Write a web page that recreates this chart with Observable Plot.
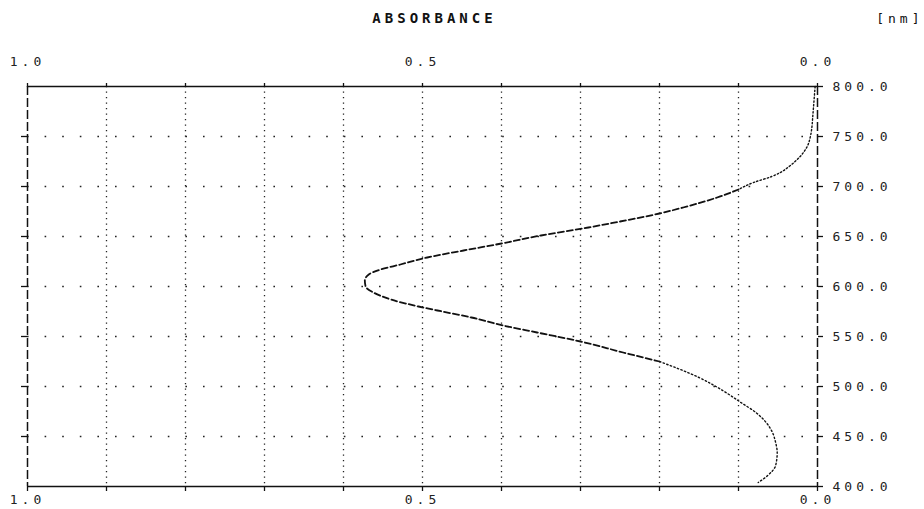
<!DOCTYPE html>
<html>
<head>
<meta charset="utf-8">
<script src="https://cdn.jsdelivr.net/npm/d3@7"></script>
<script src="https://cdn.jsdelivr.net/npm/@observablehq/plot@0.6"></script>
<style>
  html, body { margin: 0; padding: 0; background: #fff; }
  svg { display: block; }
  svg text { letter-spacing: 4px; }
</style>
</head>
<body>
<div id="chart"></div>
<script>
// Wavelength [nm] and absorbance
const wavelength = [800, 790, 780, 770, 760, 750, 740, 730, 720, 714, 710, 704, 697, 689, 679, 673, 665, 659, 651, 643, 636, 629, 622, 617, 612, 606, 600, 594, 587, 580, 576, 569, 561, 554, 545, 534, 525, 509, 495, 484, 474, 464, 454, 444, 434, 421, 411, 404];
const absorbance = [0.003, 0.004, 0.005, 0.006, 0.007, 0.009, 0.013, 0.022, 0.036, 0.047, 0.058, 0.081, 0.100, 0.127, 0.170, 0.200, 0.250, 0.290, 0.350, 0.400, 0.448, 0.494, 0.528, 0.553, 0.568, 0.573, 0.572, 0.562, 0.540, 0.505, 0.481, 0.438, 0.398, 0.355, 0.300, 0.246, 0.200, 0.150, 0.118, 0.097, 0.078, 0.065, 0.057, 0.053, 0.051, 0.053, 0.063, 0.075];

const absTicks = [0, 0.1, 0.2, 0.3, 0.4, 0.5, 0.6, 0.7, 0.8, 0.9, 1.0];
const absLabels = [1.0, 0.5, 0.0];
const nmTicks = [400, 450, 500, 550, 600, 650, 700, 750, 800];
const title = "ABSORBANCE";
const unit = "[nm]";

const data = wavelength.map((w, i) => ({nm: w, a: absorbance[i]}));
const font = "'DejaVu Sans Mono', 'Liberation Mono', monospace";
const fmt = d => absLabels.some(l => Math.abs(l - d) < 1e-9) ? d.toFixed(1) : "";

const plot = Plot.plot({
  width: 924,
  height: 509,
  marginLeft: 27,
  marginRight: 107,
  marginTop: 86,
  marginBottom: 23,
  style: {fontFamily: font, fontSize: "13px", color: "#222", background: "#fff"},
  x: {domain: [1, 0], axis: null},
  y: {domain: [400, 800], axis: null},
  marks: [
    // grid
    Plot.ruleX(absTicks.filter(d => d > 0 && d < 1), {stroke: "#222", strokeWidth: 1.3, strokeDasharray: "1.3,4.2"}),
    Plot.ruleY(nmTicks.filter(d => d > 400 && d < 800), {stroke: "#222", strokeWidth: 1.6, strokeDasharray: "1.6,16"}),
    // frame
    Plot.ruleY([800, 400], {stroke: "#111", strokeWidth: 1.5}),
    Plot.ruleX([1, 0], {stroke: "#111", strokeWidth: 1.5, strokeDasharray: "9,3"}),
    // axes
    Plot.axisX({anchor: "top", label: null, ticks: absTicks, tickSize: 4, tickPadding: 17, tickFormat: fmt, fontSize: "13px", stroke: "#111", strokeWidth: 1.3}),
    Plot.axisX({anchor: "bottom", label: null, ticks: absTicks, tickSize: 5, tickPadding: 3, tickFormat: fmt, fontSize: "13px", stroke: "#111", strokeWidth: 1.3}),
    Plot.axisY({anchor: "right", label: null, ticks: nmTicks, tickSize: 5, tickPadding: 10, tickFormat: d => d.toFixed(1), fontSize: "13px", stroke: "#111", strokeWidth: 1.3}),
    Plot.axisY({anchor: "left", label: null, ticks: nmTicks.filter(d => d > 400 && d < 800), tickSize: 6, tickFormat: () => "", stroke: "#111", strokeWidth: 1.3}),
    // spectrum: dotted where steep, dashed in the middle
    Plot.line(data.filter(d => d.nm >= 697), {x: "a", y: "nm", stroke: "#111", strokeWidth: 1.4, strokeDasharray: "1.4,2.2", curve: "monotone-y"}),
    Plot.line(data.filter(d => d.nm <= 697 && d.nm >= 525), {x: "a", y: "nm", stroke: "#111", strokeWidth: 1.8, strokeDasharray: "6,3", curve: "monotone-y"}),
    Plot.line(data.filter(d => d.nm <= 525), {x: "a", y: "nm", stroke: "#111", strokeWidth: 1.4, strokeDasharray: "1.4,2.4", curve: "monotone-y"}),
    // titles
    Plot.text([title], {frameAnchor: "top", dx: 12, dy: -73, fontSize: 14, fontWeight: 600, fill: "#111", style: {letterSpacing: "4.5px"}}),
    Plot.text([unit], {frameAnchor: "top-right", dx: 106, dy: -73, textAnchor: "end", fontSize: 13, fill: "#111"})
  ]
});
document.getElementById("chart").appendChild(plot);
</script>
</body>
</html>
